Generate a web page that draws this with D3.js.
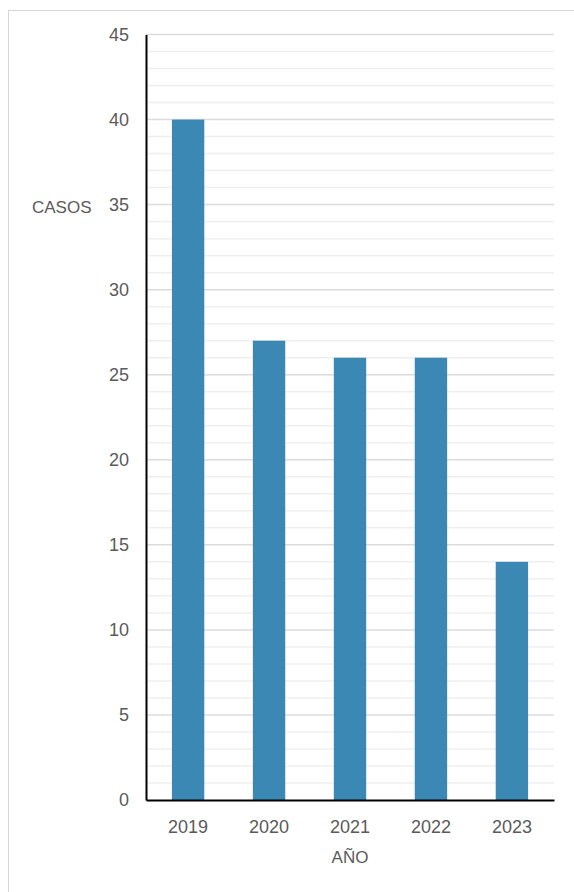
<!DOCTYPE html>
<html>
<head>
<meta charset="utf-8">
<script src="https://cdn.jsdelivr.net/npm/d3@7"></script>
<style>
  html, body { margin: 0; padding: 0; background: #fff; }
  svg { display: block; }
  text { font-family: "Liberation Sans", Arial, sans-serif; fill: #5a5a5a; }
</style>
</head>
<body>
<script>
// Casos por año
const years = ["2019", "2020", "2021", "2022", "2023"];
const casos = [40, 27, 26, 26, 14];
const yMajorTicks = [0, 5, 10, 15, 20, 25, 30, 35, 40, 45];
const yMinorTicks = d3.range(0, 46, 1).filter(v => v % 5 !== 0);

const W = 574, H = 892;
const margin = { left: 146, right: 20, top: 34.5, bottom: 92 };
const FONT = "Liberation Sans, Arial, sans-serif";

const svg = d3.select("body").append("svg")
  .attr("width", W).attr("height", H);

// frame
svg.append("rect")
  .attr("x", 8.5).attr("y", 10.5)
  .attr("width", W).attr("height", H)
  .attr("fill", "none").attr("stroke", "#d6d6d6").attr("stroke-width", 1);

const x = d3.scaleBand()
  .domain(years)
  .range([margin.left, W - margin.right])
  .paddingInner(0.6).paddingOuter(0.32);

const y = d3.scaleLinear()
  .domain([0, 45])
  .range([H - margin.bottom, margin.top]);

const x0 = margin.left, x1 = W - margin.right;

// minor gridlines
svg.append("g").selectAll("line").data(yMinorTicks).join("line")
  .attr("x1", x0).attr("x2", x1)
  .attr("y1", d => y(d)).attr("y2", d => y(d))
  .attr("stroke", "#efefef").attr("stroke-width", 1.5);

// major gridlines
svg.append("g").selectAll("line").data(yMajorTicks.filter(d => d > 0)).join("line")
  .attr("x1", x0).attr("x2", x1)
  .attr("y1", d => y(d)).attr("y2", d => y(d))
  .attr("stroke", "#dcdcdc").attr("stroke-width", 1.5);

// bars
svg.append("g").selectAll("rect").data(years).join("rect")
  .attr("x", d => x(d))
  .attr("width", x.bandwidth())
  .attr("y", (d, i) => y(casos[i]))
  .attr("height", (d, i) => y(0) - y(casos[i]))
  .attr("fill", "#3b88b4");

// y axis
const yAxis = svg.append("g")
  .attr("transform", `translate(${x0},0)`)
  .call(d3.axisLeft(y).tickValues(yMajorTicks).tickSize(0).tickPadding(17));
yAxis.select(".domain").attr("stroke", "#000").attr("stroke-width", 2);
yAxis.selectAll("text").attr("font-size", 18).style("fill", "#5a5a5a")
  .attr("font-family", FONT);

// x axis
const xAxis = svg.append("g")
  .attr("transform", `translate(0,${y(0)})`)
  .call(d3.axisBottom(x).tickSize(0).tickPadding(20));
xAxis.select(".domain").attr("stroke", "#000").attr("stroke-width", 2);
xAxis.selectAll("text").attr("font-size", 18).style("fill", "#5a5a5a")
  .attr("font-family", FONT);

// axis titles
svg.append("text")
  .attr("x", (x0 + x1) / 2).attr("y", 863)
  .attr("text-anchor", "middle").attr("font-size", 17)
  .text("AÑO");

svg.append("text")
  .attr("x", 32).attr("y", y(35) + 8)
  .attr("font-size", 17)
  .text("CASOS");
</script>
</body>
</html>
